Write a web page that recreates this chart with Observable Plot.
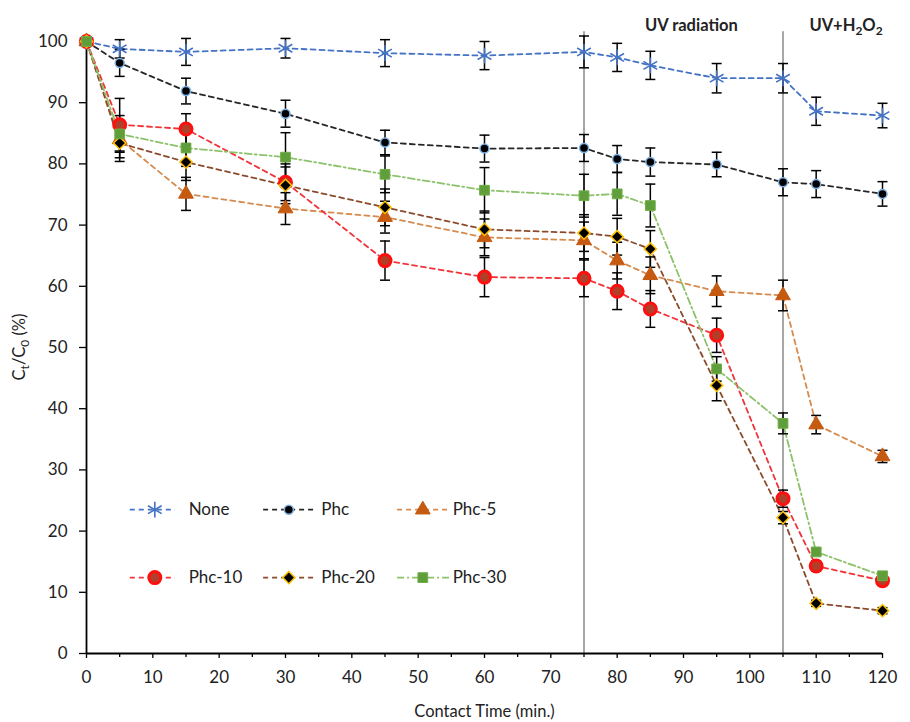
<!DOCTYPE html>
<html><head><meta charset="utf-8">
<script src="https://cdn.jsdelivr.net/npm/d3@7"></script>
<script src="https://cdn.jsdelivr.net/npm/@observablehq/plot@0.6"></script>
<style>
body{margin:0;background:#fff;}
#chart svg{font-family:Lato,"Open Sans",sans-serif;}
</style>
</head><body><div id="chart"></div>
<script>
// ---- data ----
const times = [0, 5, 15, 30, 45, 60, 75, 80, 85, 95, 105, 110, 120];
const seriesNames = ["None", "Phc", "Phc-5", "Phc-10", "Phc-20", "Phc-30"];
const valNone  = [100, 98.8, 98.3, 98.9, 98.1, 97.7, 98.3, 97.4, 96.1, 94.0, 94.0, 88.6, 87.9];
const errNone  = [0, 1.5, 2.2, 1.6, 2.2, 2.3, 2.6, 2.3, 2.3, 2.4, 2.4, 2.3, 2.0];
const valPhc   = [100, 96.5, 91.9, 88.2, 83.5, 82.5, 82.6, 80.8, 80.3, 79.9, 77.0, 76.7, 75.1];
const errPhc   = [0, 2.2, 2.1, 2.2, 2.0, 2.2, 2.2, 2.2, 2.3, 2.0, 2.2, 2.2, 2.0];
const valPhc5  = [100, 84.0, 75.1, 72.7, 71.3, 68.0, 67.5, 64.2, 61.8, 59.2, 58.5, 37.4, 32.2];
const errPhc5  = [0, 3.0, 2.7, 2.6, 2.6, 3.0, 3.0, 3.0, 3.0, 2.5, 2.5, 1.5, 1.0];
const valPhc10 = [100, 86.4, 85.7, 77.0, 64.2, 61.5, 61.3, 59.2, 56.3, 52.0, 25.3, 14.3, 11.9];
const errPhc10 = [0, 4.3, 2.5, 3.0, 3.2, 3.2, 3.0, 3.0, 3.0, 2.8, 1.4, 0.8, 0.8];
const valPhc20 = [100, 83.4, 80.3, 76.5, 72.9, 69.3, 68.7, 68.1, 66.1, 43.8, 22.2, 8.2, 7.0];
const errPhc20 = [0, 3.0, 3.0, 3.0, 3.0, 3.0, 3.0, 3.0, 3.0, 2.5, 1.0, 0.5, 0.5];
const valPhc30 = [100, 84.9, 82.6, 81.1, 78.3, 75.7, 74.8, 75.1, 73.2, 46.5, 37.6, 16.6, 12.7];
const errPhc30 = [0, 3.0, 3.0, 4.0, 3.0, 3.7, 3.5, 3.5, 3.5, 2.0, 1.7, 0.5, 0.5];
const phaseLines = [75, 105];
const xTicks = [0, 10, 20, 30, 40, 50, 60, 70, 80, 90, 100, 110, 120];
const xMinorTicks = [5, 15, 25, 35, 45, 55, 65, 75, 85, 95, 105, 115];
const yTicks = [0, 10, 20, 30, 40, 50, 60, 70, 80, 90, 100];

const values = [valNone, valPhc, valPhc5, valPhc10, valPhc20, valPhc30];
const errors = [errNone, errPhc, errPhc5, errPhc10, errPhc20, errPhc30];

// ---- styles ----
const styles = {
  "None":   {line:"#4472C4", dash:"5,4", symbol:"asterisk", fill:"none", stroke:"#4472C4", r:7.5, sw:1.6},
  "Phc":    {line:"#262626", dash:"5,4", symbol:"circle", fill:"#000", stroke:"#7FB2E5", r:4.5, sw:1.5},
  "Phc-5":  {line:"#D58A4E", dash:"5,4", symbol:"triangle", fill:"#C55A11", stroke:"#C55A11", r:5.5, sw:1},
  "Phc-10": {line:"#F0343A", dash:"5,4", symbol:"circle", fill:"#B0402A", stroke:"#FF1010", r:6, sw:3},
  "Phc-20": {line:"#8B4A2B", dash:"5,4", symbol:"diamond2", fill:"#000", stroke:"#FFC000", r:5.5, sw:1.5},
  "Phc-30": {line:"#8CC26A", dash:"7,3,2,3", symbol:"square", fill:"#5F9E3A", stroke:"#70AD47", r:5.5, sw:1}
};

const rows = [];
seriesNames.forEach((s, k) => times.forEach((t, i) => rows.push({series: s, t, v: values[k][i], e: errors[k][i]})));
const barRows = rows.filter(d => d.e > 0);

const capSymbol = {draw(ctx, size) { const r = 5; ctx.moveTo(-r, 0); ctx.lineTo(r, 0); }};

// legend layout (data units)
const legCols = [{x1: 6.6, x2: 13.4, xm: 10.3, xt: 15.4}, {x1: 26.7, x2: 34.8, xm: 30.5, xt: 35.4}, {x1: 46.9, x2: 54.9, xm: 50.7, xt: 55.2}];
const legRows = [23.5, 12.4];

const marks = [];
// phase separators
marks.push(Plot.ruleX(phaseLines, {y1: 0, y2: 101.6, stroke: "#8a8a8a", strokeWidth: 1.5}));
// axes
marks.push(Plot.axisX({ticks: xTicks, tickSize: 5, tickPadding: 12, fontSize: 17, label: null, stroke: "#000", strokeWidth: 1.3}));
marks.push(Plot.axisX({ticks: xMinorTicks, tickSize: 4, tickFormat: () => "", label: null, stroke: "#000", strokeWidth: 1.3}));
marks.push(Plot.axisY({ticks: yTicks, tickSize: 7, tickPadding: 12, fontSize: 17, label: null, stroke: "#000", strokeWidth: 1.3}));
marks.push(Plot.ruleY([0], {stroke: "#000", strokeWidth: 1.8}));
marks.push(Plot.ruleX([0], {y1: 0, y2: 100, stroke: "#000", strokeWidth: 1.8}));
// lines
seriesNames.forEach(s => {
  const st = styles[s];
  marks.push(Plot.line(rows.filter(d => d.series === s), {x: "t", y: "v", stroke: st.line, strokeWidth: 1.8, strokeDasharray: st.dash}));
});
// error bars
marks.push(Plot.ruleX(barRows, {x: "t", y1: d => d.v - d.e, y2: d => d.v + d.e, stroke: "#000", strokeWidth: 1.5}));
marks.push(Plot.dot(barRows, {x: "t", y: d => d.v - d.e, symbol: capSymbol, stroke: "#000", strokeWidth: 1.5, r: 5}));
marks.push(Plot.dot(barRows, {x: "t", y: d => d.v + d.e, symbol: capSymbol, stroke: "#000", strokeWidth: 1.5, r: 5}));
// markers
seriesNames.forEach(s => {
  const st = styles[s];
  marks.push(Plot.dot(rows.filter(d => d.series === s), {x: "t", y: "v", symbol: st.symbol, fill: st.fill, stroke: st.stroke, strokeWidth: st.sw, r: st.r}));
});
// legend
seriesNames.forEach((s, i) => {
  const st = styles[s];
  const c = legCols[i % 3], y = legRows[Math.floor(i / 3)];
  marks.push(Plot.ruleY([y], {x1: c.x1, x2: c.x2, stroke: st.line, strokeWidth: 1.8, strokeDasharray: st.dash}));
  marks.push(Plot.dot([y], {x: c.xm, y: d => d, symbol: st.symbol, fill: st.fill, stroke: st.stroke, strokeWidth: st.sw, r: st.r}));
  marks.push(Plot.text([s], {x: c.xt, y: y, text: d => d, textAnchor: "start", fontSize: 17, fill: "#222"}));
});
// annotations
marks.push(Plot.text(["UV radiation"], {x: 91.2, frameAnchor: "top", dy: -22, text: d => d, fontSize: 16.5, fontWeight: "bold", fill: "#222"}));
marks.push(Plot.text(["UV+H2O2"], {x: 114.5, frameAnchor: "top", dy: -22, text: d => d, fontSize: 16.5, fontWeight: "bold", fill: "#222"}));
marks.push(Plot.text(["Contact Time (min.)"], {frameAnchor: "bottom", dy: 63, text: d => d, fontSize: 16.5, fill: "#222"}));

const plot = Plot.plot({
  width: 910, height: 722,
  marginLeft: 86, marginRight: 28, marginTop: 41, marginBottom: 69,
  x: {domain: [0, 120]},
  y: {domain: [0, 100]},
  style: {fontFamily: "Lato, 'Open Sans', sans-serif", background: "#fff", color: "#222"},
  marks
});
document.getElementById("chart").appendChild(plot);

const svg = d3.select(plot);
// subscripts in annotation
svg.selectAll("text").filter(function() { return this.textContent === "UV+H2O2"; }).each(function() {
  const t = d3.select(this); t.text(null);
  t.append("tspan").text("UV+H");
  t.append("tspan").attr("dy", 4).attr("font-size", "12").text("2");
  t.append("tspan").attr("dy", -4).text("O");
  t.append("tspan").attr("dy", 4).attr("font-size", "12").text("2");
});
// y label with subscripts
const yl = svg.append("text")
  .attr("transform", "translate(25,347) rotate(-90)")
  .attr("text-anchor", "middle").attr("font-size", 16.5).attr("fill", "#222")
  .attr("font-family", "Lato, 'Open Sans', sans-serif");
yl.append("tspan").text("C");
yl.append("tspan").attr("dy", 4).attr("font-size", 12).text("t");
yl.append("tspan").attr("dy", -4).text("/C");
yl.append("tspan").attr("dy", 4).attr("font-size", 12).text("0");
yl.append("tspan").attr("dy", -4).text(" (%)");
</script>
</body></html>
